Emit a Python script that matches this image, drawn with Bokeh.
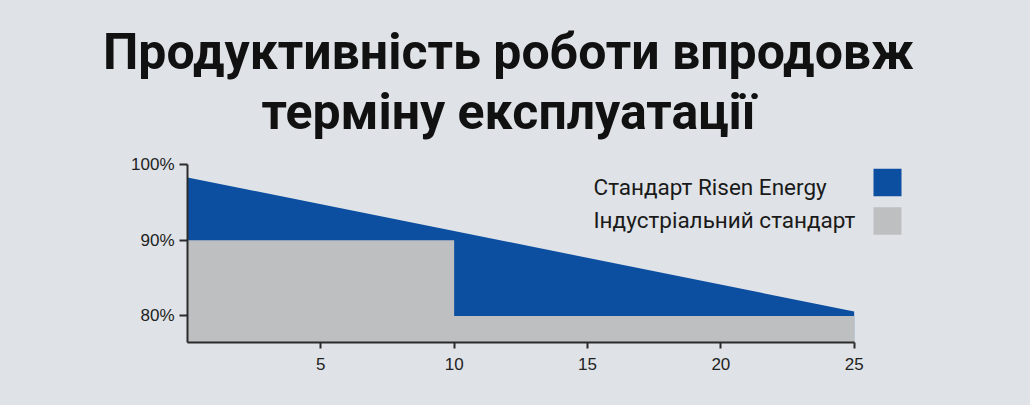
from bokeh.plotting import figure
from bokeh.models import Range1d, FixedTicker, Label, BoxAnnotation
from bokeh.embed import file_html
from bokeh.resources import INLINE

title_lines = ["Продуктивність роботи впродовж", "терміну експлуатації"]
legend_labels = ["Стандарт Risen Energy", "Індустріальний стандарт"]

risen_years = [0, 25]
risen_values = [98.3, 80.6]

industry_years = [0, 10, 10, 25]
industry_values = [90, 90, 80, 80]

x_ticks = [5, 10, 15, 20, 25]
y_ticks = [80, 90, 100]
y_tick_labels = ["80%", "90%", "100%"]

BG = "#dfe3e7"
BLUE = "#0c4ea0"
GRAY = "#bebfc1"
AXIS = "#2b2b2b"

W = 1030
TITLE_H = 150
CHART_H = 255

y_min = 76.5
y_max = 100
x_max = 27.0

# ---- title block ----
t = figure(width=W, height=TITLE_H, output_backend="svg", toolbar_location=None,
           x_range=Range1d(0, W), y_range=Range1d(TITLE_H, 0),
           x_axis_location=None, y_axis_location=None,
           min_border=0, min_border_left=0, min_border_right=0,
           min_border_top=0, min_border_bottom=0)
t.background_fill_color = BG
t.border_fill_color = BG
t.outline_line_color = None
t.grid.visible = False
for txt, yy in zip(title_lines, [51.5, 111]):
    t.add_layout(Label(x=508, y=yy, text=txt,
                       text_align="center", text_baseline="alphabetic",
                       text_font="Roboto", text_font_style="bold",
                       text_font_size="50px", text_color="#111111"))

# ---- chart ----
p = figure(width=W, height=CHART_H, output_backend="svg", toolbar_location=None,
           x_range=Range1d(0, x_max), y_range=Range1d(y_min, y_max),
           min_border_left=187, min_border_right=123, min_border_top=14,
           min_border_bottom=63)
p.background_fill_color = BG
p.border_fill_color = BG
p.outline_line_color = None
p.grid.visible = False

p.varea(x=risen_years, y1=[y_min] * len(risen_years), y2=risen_values, fill_color=BLUE)
p.varea(x=industry_years, y1=[y_min] * len(industry_years), y2=industry_values, fill_color=GRAY)

for ax in (p.xaxis[0], p.yaxis[0]):
    ax.axis_line_color = AXIS
    ax.axis_line_width = 2
    ax.major_tick_line_color = AXIS
    ax.major_tick_line_width = 2
    ax.minor_tick_line_color = None
    ax.major_tick_in = 0
    ax.major_label_text_font = "Liberation Sans"
    ax.major_label_text_font_size = "17px"
    ax.major_label_text_color = "#222222"

p.xaxis.ticker = FixedTicker(ticks=x_ticks)
p.xaxis.bounds = (0, 25)
p.xaxis.major_tick_out = 6
p.xaxis.major_label_standoff = 9

p.yaxis.ticker = FixedTicker(ticks=y_ticks)
p.yaxis.major_label_overrides = {tk: lb for tk, lb in zip(y_ticks, y_tick_labels)}
p.yaxis.major_tick_out = 8
p.yaxis.major_label_standoff = 5

# legend (screen units, relative to the plot frame)
for txt, yy in zip(legend_labels, [156, 123]):
    p.add_layout(Label(x=406, y=yy, x_units="screen", y_units="screen", text=txt,
                       text_align="left", text_baseline="alphabetic",
                       text_font="Roboto", text_font_size="22.5px", text_color="#1a1a1a"))

for col, (top, bot) in zip([BLUE, GRAY], [(173.7, 146.3), (135.3, 107.7)]):
    p.add_layout(BoxAnnotation(left=686, right=714, top=top, bottom=bot,
                               left_units="screen", right_units="screen",
                               top_units="screen", bottom_units="screen",
                               fill_color=col, fill_alpha=1, line_color=None))

html = file_html([t, p], INLINE)
html = html.replace("<head>", "<head><style>html, body { background: %s; }</style>" % BG, 1)
open("out.html", "w").write(html)
